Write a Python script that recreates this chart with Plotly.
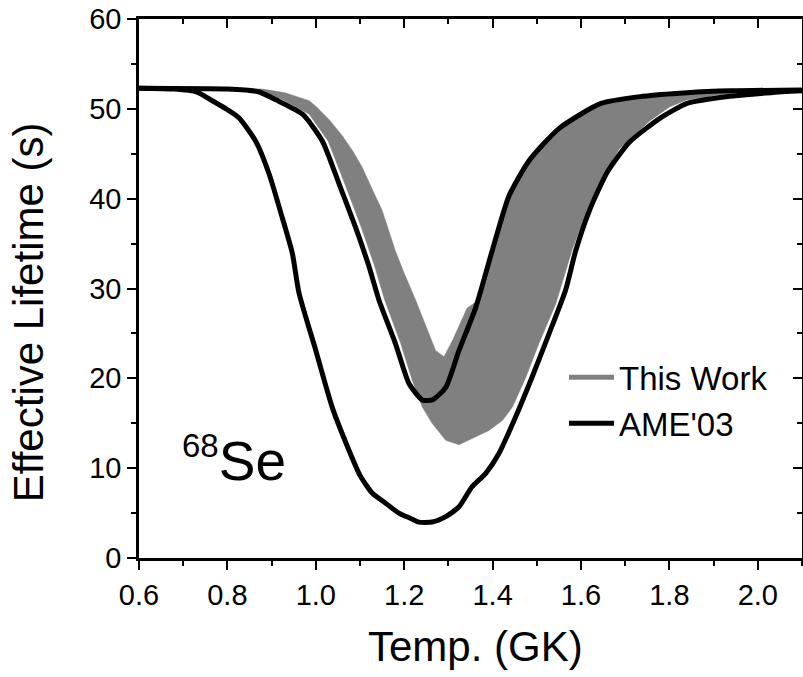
import plotly.graph_objects as go

# AME'03 outer (wide) curve
outer_x = [0.60, 0.68, 0.73, 0.766, 0.80, 0.826, 0.864, 0.894, 0.924, 0.947, 0.962, 1.00, 1.037,
           1.075, 1.10, 1.128, 1.158, 1.188, 1.215, 1.233, 1.263, 1.294, 1.324, 1.353, 1.384, 1.414,
           1.452, 1.489, 1.528, 1.565, 1.588, 1.62, 1.66, 1.71, 1.78, 1.84, 1.937, 2.03, 2.10]
outer_y = [52.3, 52.2, 51.9, 50.9, 49.9, 49.0, 46.4, 42.8, 37.9, 33.9, 29.5, 23.1, 16.8,
           12.0, 9.2, 7.2, 6.1, 5.0, 4.4, 4.0, 4.0, 4.6, 5.7, 7.9, 9.4, 11.6,
           15.7, 20.1, 25.0, 29.8, 34.2, 38.8, 43.0, 46.3, 49.0, 50.6, 51.4, 51.8, 52.0]

# AME'03 inner (narrow) curve
inner_x = [0.60, 0.80, 0.87, 0.91, 0.97, 1.015, 1.053, 1.09, 1.12, 1.143, 1.18, 1.211, 1.241,
           1.264, 1.294, 1.324, 1.362, 1.399, 1.437, 1.482, 1.55, 1.645, 1.74, 1.84, 1.94, 2.10]
inner_y = [52.3, 52.2, 51.9, 51.0, 49.4, 46.4, 41.6, 36.8, 32.5, 28.7, 23.9, 19.4, 17.6,
           17.6, 19.0, 23.1, 27.9, 34.2, 40.3, 44.2, 47.8, 50.6, 51.4, 51.8, 52.0, 52.1]

# This Work band: upper boundary (left to right)
band_up_x = [0.60, 0.80, 0.88, 0.93, 0.985, 1.00, 1.03, 1.06, 1.085, 1.105, 1.13, 1.15, 1.18,
             1.20, 1.226, 1.25, 1.271, 1.29, 1.31, 1.342, 1.362, 1.399, 1.437, 1.482, 1.55,
             1.645, 1.74, 1.84, 1.94, 2.10]
band_up_y = [52.3, 52.3, 52.2, 51.8, 50.9, 50.3, 48.8, 47.0, 45.2, 43.5, 40.8, 38.7, 34.2,
             31.7, 28.7, 25.6, 23.1, 22.4, 24.3, 27.8, 28.5, 34.4, 40.5, 44.4, 48.0,
             50.7, 51.5, 51.9, 52.1, 52.2]

# This Work band: lower boundary (left to right)
band_lo_x = [0.60, 0.80, 0.88, 0.925, 0.985, 1.028, 1.066, 1.103, 1.133, 1.156, 1.192, 1.218,
             1.241, 1.263, 1.294, 1.324, 1.362, 1.392, 1.422, 1.445, 1.475, 1.505, 1.543, 1.58,
             1.618, 1.686, 1.754, 1.80, 1.84, 1.937, 2.03, 2.10]
band_lo_y = [52.3, 52.2, 51.9, 51.0, 49.4, 46.4, 41.6, 36.8, 32.5, 28.7, 23.9, 19.8,
             16.8, 15.0, 13.1, 12.6, 13.5, 14.2, 15.3, 16.8, 20.1, 23.9, 28.3, 34.3,
             39.3, 45.5, 48.6, 50.2, 51.0, 51.7, 52.0, 52.1]

x_ticks = [0.6, 0.8, 1.0, 1.2, 1.4, 1.6, 1.8, 2.0]
x_tick_labels = ["0.6", "0.8", "1.0", "1.2", "1.4", "1.6", "1.8", "2.0"]
y_ticks = [0, 10, 20, 30, 40, 50, 60]
y_tick_labels = ["0", "10", "20", "30", "40", "50", "60"]

FONT = "Liberation Sans, Arial, sans-serif"
GRAY = "#808080"

fig = go.Figure()

# band as closed polygon
fig.add_trace(go.Scatter(
    x=band_up_x + band_lo_x[::-1],
    y=band_up_y + band_lo_y[::-1],
    mode="lines", fill="toself", fillcolor=GRAY,
    line=dict(color=GRAY, width=0.5),
    showlegend=False, hoverinfo="skip"))

fig.add_trace(go.Scatter(x=inner_x, y=inner_y, mode="lines",
                         line=dict(color="black", width=5, shape="spline", smoothing=0.6),
                         showlegend=False))
fig.add_trace(go.Scatter(x=outer_x, y=outer_y, mode="lines",
                         line=dict(color="black", width=5, shape="spline", smoothing=0.6),
                         showlegend=False))

# legend entries
fig.add_trace(go.Scatter(x=[None], y=[None], mode="lines", name="This Work",
                         line=dict(color=GRAY, width=5)))
fig.add_trace(go.Scatter(x=[None], y=[None], mode="lines", name="AME'03",
                         line=dict(color="black", width=5)))

# helper trace for the top/right frame axes
fig.add_trace(go.Scatter(x=[None], y=[None], xaxis="x2", yaxis="y2",
                         showlegend=False, hoverinfo="skip"))

xr = [0.6, 2.1]
yr = [0, 60]

fig.update_layout(
    width=803, height=677,
    margin=dict(l=139, r=1, t=19, b=119),
    paper_bgcolor="white", plot_bgcolor="white",
    font=dict(family=FONT, color="black"),
    showlegend=True,
    legend=dict(x=0.641, y=0.387, xanchor="left", yanchor="top",
                font=dict(size=33, family=FONT), bgcolor="rgba(0,0,0,0)",
                itemwidth=45, tracegroupgap=0),
    xaxis=dict(range=xr, tickvals=x_ticks, ticktext=x_tick_labels,
               ticks="outside", ticklen=9, tickwidth=2, tickcolor="black",
               showline=True, linewidth=2.5, linecolor="black",
               showgrid=False, zeroline=False,
               tickfont=dict(size=29, family=FONT),
               minor=dict(dtick=0.1, tick0=0.6, ticks="outside", ticklen=5,
                          tickwidth=2, tickcolor="black", showgrid=False)),
    yaxis=dict(range=yr, tickvals=y_ticks, ticktext=y_tick_labels,
               ticks="outside", ticklen=9, tickwidth=2, tickcolor="black",
               showline=True, linewidth=2.5, linecolor="black",
               showgrid=False, zeroline=False,
               tickfont=dict(size=29, family=FONT),
               minor=dict(dtick=5, tick0=0, ticks="outside", ticklen=5,
                          tickwidth=2, tickcolor="black", showgrid=False)),
    xaxis2=dict(range=xr, overlaying="x", side="top", anchor="y2",
                tickvals=x_ticks, showticklabels=False,
                ticks="inside", ticklen=9, tickwidth=2, tickcolor="black",
                showline=True, linewidth=2.5, linecolor="black",
                showgrid=False, zeroline=False,
                minor=dict(dtick=0.1, tick0=0.6, ticks="inside", ticklen=5,
                           tickwidth=2, tickcolor="black", showgrid=False)),
    yaxis2=dict(range=yr, overlaying="y", side="right", anchor="x2",
                tickvals=y_ticks, showticklabels=False,
                ticks="inside", ticklen=9, tickwidth=2, tickcolor="black",
                showline=True, linewidth=2.5, linecolor="black",
                showgrid=False, zeroline=False,
                minor=dict(dtick=5, tick0=0, ticks="inside", ticklen=5,
                           tickwidth=2, tickcolor="black", showgrid=False)),
)

# axis titles
fig.add_annotation(x=-0.1674, y=0.456, xref="paper", yref="paper", showarrow=False,
                   text="Effective Lifetime (s)", textangle=-90,
                   font=dict(size=42, family=FONT, color="black"),
                   xanchor="center", yanchor="middle")
fig.add_annotation(x=0.5075, y=-0.165, xref="paper", yref="paper", showarrow=False,
                   text="Temp. (GK)",
                   font=dict(size=42, family=FONT, color="black"),
                   xanchor="center", yanchor="middle")

fig.add_annotation(
    x=0.815, y=11.0, xref="x", yref="y", showarrow=False,
    text="<sup><span style='font-size:33px'>68</span></sup>Se",
    font=dict(size=55, family=FONT, color="black"),
    xanchor="center", yanchor="middle")

fig.write_html("out.html")
